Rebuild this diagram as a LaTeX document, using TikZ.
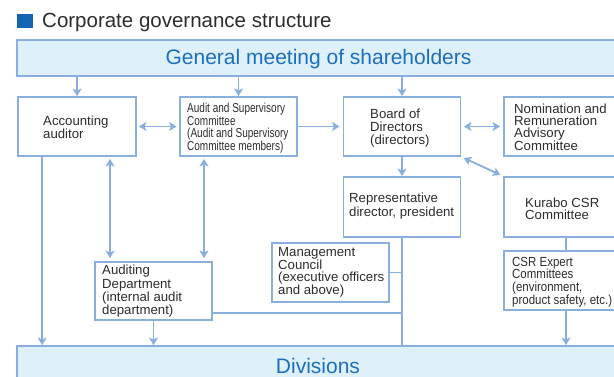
\documentclass[tikz,border=0pt]{standalone}
\usepackage{fontspec}
\setmainfont{Liberation Sans}
\newfontfamily\narrowfont[FakeStretch=0.77]{Liberation Sans}
\newfontfamily\semifont[FakeStretch=0.87]{Liberation Sans}
\usetikzlibrary{arrows.meta,calc}
\definecolor{lineblue}{RGB}{138,175,222}
\definecolor{lightfill}{RGB}{222,240,250}
\definecolor{bigblue}{RGB}{30,110,190}
\definecolor{sqblue}{RGB}{20,100,180}
\definecolor{txtgray}{RGB}{45,45,45}
\tikzset{
  box/.style={draw=lineblue, line width=1.8pt, fill=white, rectangle, inner sep=0pt},
  bigbox/.style={draw=lineblue, line width=1.8pt, fill=lightfill, rectangle, inner sep=0pt},
  txt/.style={anchor=west, align=left, inner sep=0pt, text=txtgray},
  bigtxt/.style={anchor=base, inner sep=0pt, text=bigblue, font=\fontsize{21}{24}\selectfont},
  conn/.style={draw=lineblue, line width=1.8pt},
  tip/.tip={Stealth[length=7.5pt,width=9pt,inset=1.8pt]},
  arr/.style={conn, -tip},
  dbl/.style={conn, tip-tip}
}
\begin{document}
\begin{tikzpicture}[x=1pt,y=-1pt]
\useasboundingbox (0,0) rectangle (614,377);
% title
\node[fill=sqblue, minimum width=16pt, minimum height=14pt, inner sep=0pt] (sq) at (25,21) {};
\node[anchor=base west, inner sep=0pt, text=txtgray, font=\fontsize{20.5}{24}\selectfont] (title) at (42,28) {Corporate governance structure};
% big boxes
\node[bigbox, minimum width=602pt, minimum height=36pt] (top) at (318,58) {};
\node[bigtxt] (toptxt) at (318.5,65) {General meeting of shareholders};
\node[bigbox, minimum width=602pt, minimum height=50pt] (div) at (318,371) {};
\node[bigtxt] (divtxt) at (318,373) {Divisions};
% boxes
\node[box, minimum width=118pt, minimum height=59pt] (acc) at (77,126.5) {};
\node[box, minimum width=117pt, minimum height=59pt] (aud) at (238.5,126.5) {};
\node[box, minimum width=117pt, minimum height=59pt] (brd) at (402,126.5) {};
\node[box, minimum width=124pt, minimum height=59pt] (nom) at (566,126.5) {};
\node[box, minimum width=117pt, minimum height=60pt] (rep) at (402,207) {};
\node[box, minimum width=124pt, minimum height=60pt] (csr) at (566,207) {};
\node[box, minimum width=117pt, minimum height=59pt] (mgmt) at (330.5,272.5) {};
\node[box, minimum width=117pt, minimum height=58pt] (adept) at (153.5,291) {};
\node[box, minimum width=124pt, minimum height=59pt] (exp) at (566,280.5) {};
% texts
\node[txt, font=\fontsize{13.2}{12}\selectfont] (acct) at (43,127.5) {Accounting\\auditor};
\node[txt, font=\narrowfont\fontsize{13}{11.5}\selectfont] (audt) at (187,128) {Audit and Supervisory\\Committee\\(Audit and Supervisory\\Committee members)};
\node[txt, font=\fontsize{13.2}{13}\selectfont] (brdt) at (370,128) {Board of\\Directors\\(directors)};
\node[txt, font=\fontsize{13.2}{12}\selectfont] (nomt) at (514,127.5) {Nomination and\\Remuneration\\Advisory\\Committee};
\node[txt, font=\fontsize{13.2}{13.3}\selectfont] (rept) at (349,206) {Representative\\director, president};
\node[txt, font=\fontsize{13.2}{12.2}\selectfont] (csrt) at (525,208.5) {Kurabo CSR\\Committee};
\node[txt, font=\fontsize{13.2}{11.8}\selectfont] (mgmtt) at (278,272.5) {Management\\Council\\(executive officers\\and above)};
\node[txt, font=\fontsize{13.2}{13.3}\selectfont] (adeptt) at (102,291.5) {Auditing\\Department\\(internal audit\\department)};
\node[txt, font=\semifont\fontsize{13.2}{12.6}\selectfont] (expt) at (512,282) {CSR Expert\\Committees\\(environment,\\product safety, etc.)};
% connectors from top
\draw[arr] (top.south -| acc.north) -- (acc.north);
\draw[arr] (top.south -| aud.north) -- (aud.north);
\draw[arr] (top.south -| brd.north) -- (brd.north);
% row 1 horizontals
\draw[dbl, shorten <=2pt, shorten >=2.5pt] (acc.east) -- (aud.west);
\draw[arr, shorten >=3pt] (aud.east) -- (brd.west);
\draw[dbl, shorten <=2.5pt, shorten >=3pt] (brd.east) -- (nom.west);
\draw[dbl, shorten <=2.5pt, shorten >=3pt] (brd.south east) -- (csr.north west);
\draw[arr] (brd.south) -- (rep.north);
% verticals on the left
\coordinate (accl) at ($(acc.south west)+(25,0)$);
\draw[arr] (accl) -- (accl |- div.north);
\coordinate (d1) at ($(acc.south)+(33,0)$);
\draw[dbl, shorten <=2pt, shorten >=3pt] (d1) -- (d1 |- adept.north);
\coordinate (d2) at ($(aud.south)+(-34.5,0)$);
\draw[dbl, shorten <=2pt, shorten >=3pt] (d2) -- (d2 |- adept.north);
\draw[arr] (adept.south) -- (adept.south |- div.north);
% trunk
\draw[conn] (rep.south) -- (rep.south |- div.north);
\draw[conn] (mgmt.east) -- (mgmt.east -| rep.south);
\coordinate (adr) at ($(adept.south east)+(0,-8)$);
\draw[conn] (adr) -- (adr -| rep.south);
% right column
\draw[conn] (csr.south) -- (exp.north);
\draw[arr] (exp.south) -- (exp.south |- div.north);
\end{tikzpicture}
\end{document}
